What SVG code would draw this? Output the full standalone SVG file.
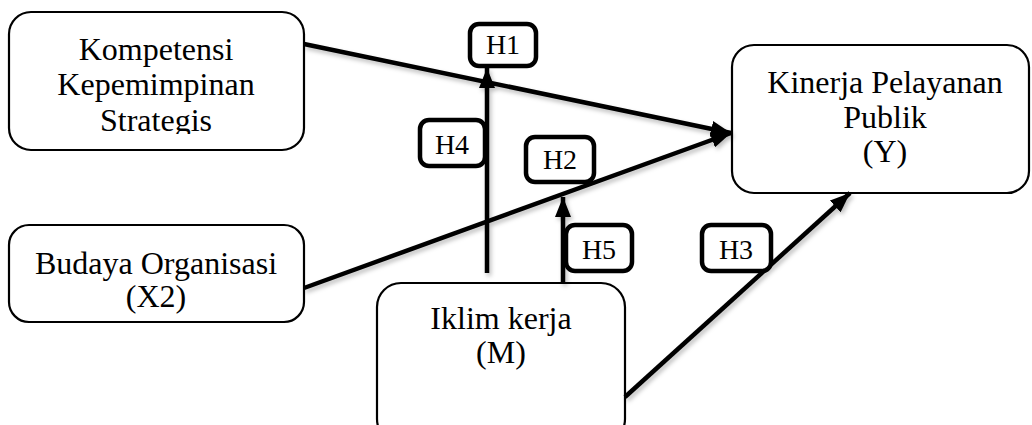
<svg xmlns="http://www.w3.org/2000/svg" width="1032" height="425" viewBox="0 0 1032 425">
  <style>
    .node rect { fill: #ffffff; stroke: #000000; stroke-width: 2.2; }
    .node text { font-family: "Liberation Serif", "Times New Roman", serif; font-size: 32px; fill: #000000; text-anchor: middle; }
    .tag rect { fill: #ffffff; stroke: #000000; stroke-width: 4.5; }
    .tag text { font-family: "Liberation Serif", "Times New Roman", serif; font-size: 28px; fill: #000000; text-anchor: middle; }
    .edge { stroke: #000000; stroke-width: 4.5; fill: none; }
  </style>
  <defs>
    <marker id="arrow" viewBox="0 0 20 16" refX="20" refY="8" markerWidth="20" markerHeight="16" markerUnits="userSpaceOnUse" orient="auto">
      <path d="M0,0 L20,8 L0,16 Z" fill="#000000"/>
    </marker>
    <filter id="shade" x="-5%" y="-5%" width="110%" height="120%">
      <feDropShadow dx="2" dy="3" stdDeviation="2" flood-color="#000000" flood-opacity="0.25"/>
    </filter>
    <clipPath id="clip-x1">
      <rect x="9" y="12" width="296" height="122"/>
    </clipPath>
  </defs>

  <!-- variables -->
  <g id="node-x1" class="node">
    <rect x="9" y="12" width="295" height="138" rx="22" ry="22"/>
    <g clip-path="url(#clip-x1)">
      <text x="156" y="60">Kompetensi</text>
      <text x="156" y="95">Kepemimpinan</text>
      <text x="156" y="131">Strategis</text>
    </g>
  </g>

  <g id="node-x2" class="node">
    <rect x="9" y="225" width="295" height="97" rx="20" ry="20"/>
    <text x="156" y="274">Budaya Organisasi</text>
    <text x="156" y="307">(X2)</text>
  </g>

  <g id="node-y" class="node">
    <rect x="732" y="45" width="297" height="148" rx="22" ry="22"/>
    <text x="885" y="93">Kinerja Pelayanan</text>
    <text x="885" y="128">Publik</text>
    <text x="885" y="162">(Y)</text>
  </g>

  <g id="node-m" class="node">
    <rect x="377" y="283" width="248" height="160" rx="24" ry="24"/>
    <text x="501" y="329">Iklim kerja</text>
    <text x="501" y="363">(M)</text>
  </g>

  <!-- paths -->
  <g id="connectors" filter="url(#shade)">
    <line class="edge" x1="304" y1="44" x2="731" y2="133" marker-end="url(#arrow)"/>
    <line class="edge" x1="304" y1="288" x2="731" y2="133" marker-end="url(#arrow)"/>
    <line class="edge" x1="625" y1="397" x2="850" y2="193" marker-end="url(#arrow)"/>
    <line class="edge" x1="487" y1="273" x2="487" y2="68" marker-end="url(#arrow)"/>
    <line class="edge" x1="563" y1="283" x2="563" y2="197" marker-end="url(#arrow)"/>
  </g>

  <!-- hypothesis tags -->
  <g id="tag-h1" class="tag">
    <rect x="470" y="24" width="66" height="42" rx="9" ry="9"/>
    <text x="503" y="54">H1</text>
  </g>
  <g id="tag-h4" class="tag">
    <rect x="420" y="120" width="65" height="46" rx="9" ry="9"/>
    <text x="452" y="154">H4</text>
  </g>
  <g id="tag-h2" class="tag">
    <rect x="526" y="137" width="68" height="45" rx="9" ry="9"/>
    <text x="560" y="169">H2</text>
  </g>
  <g id="tag-h5" class="tag">
    <rect x="566" y="225" width="66" height="46" rx="9" ry="9"/>
    <text x="599" y="259">H5</text>
  </g>
  <g id="tag-h3" class="tag">
    <rect x="702" y="225" width="69" height="46" rx="9" ry="9"/>
    <text x="736" y="259">H3</text>
  </g>
</svg>
